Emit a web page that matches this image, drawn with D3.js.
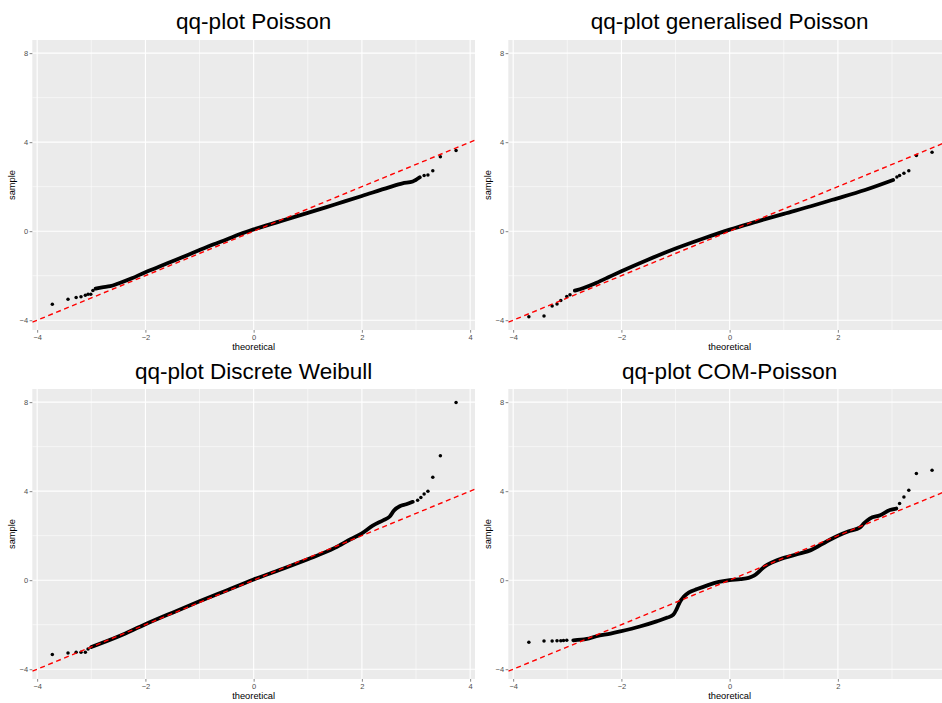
<!DOCTYPE html>
<html>
<head>
<meta charset="utf-8">
<script src="https://cdn.jsdelivr.net/npm/d3@7"></script>
<style>
  html, body { margin: 0; padding: 0; background: #ffffff; }
  svg { display: block; }
</style>
</head>
<body>
<svg id="chart" width="942" height="703"></svg>
<script>
// ---- data: theoretical vs sample quantiles ----
// dense central run of each qq-plot, [theoretical, sample]
const poissonBand = [[-2.92,-2.58],[-2.8,-2.52],[-2.65,-2.47],[-2.5,-2.35],[-2.25,-2.12],[-2.0,-1.84],[-1.75,-1.6],[-1.5,-1.35],[-1.25,-1.1],[-1.0,-0.85],[-0.75,-0.6],[-0.5,-0.37],[-0.25,-0.13],[0,0.08],[0.5,0.45],[1.0,0.82],[1.5,1.2],[2.0,1.58],[2.5,1.97],[2.75,2.15],[2.94,2.23],[3.07,2.42]];
const poissonPoints = [[-3.72,-3.28],[-3.43,-3.06],[-3.28,-2.98],[-3.19,-2.95],[-3.11,-2.88],[-3.06,-2.83],[-3.01,-2.83],[-2.97,-2.67],[3.15,2.5],[3.22,2.52],[3.31,2.72],[3.45,3.34],[3.74,3.62]];

const genPoissonBand = [[-2.86,-2.67],[-2.7,-2.55],[-2.5,-2.36],[-2.25,-2.08],[-2.0,-1.8],[-1.5,-1.27],[-1.0,-0.78],[-0.5,-0.34],[0,0.07],[0.5,0.43],[1.0,0.78],[1.5,1.12],[1.9,1.41],[2.5,1.85],[3.02,2.3]];
const genPoissonPoints = [[-3.71,-3.84],[-3.43,-3.81],[-3.28,-3.36],[-3.19,-3.27],[-3.12,-3.12],[-3.01,-2.94],[-2.95,-2.86],[3.09,2.43],[3.14,2.5],[3.22,2.6],[3.31,2.71],[3.45,3.4],[3.74,3.55]];

const weibullBand = [[-3.0,-3.0],[-2.5,-2.53],[-2.0,-1.98],[-1.5,-1.46],[-1.0,-0.95],[-0.5,-0.46],[0,0.03],[0.5,0.48],[1.0,0.94],[1.5,1.45],[1.8,1.85],[2.0,2.1],[2.2,2.45],[2.4,2.7],[2.51,2.85],[2.6,3.15],[2.7,3.32],[2.82,3.41],[2.94,3.52]];
const weibullPoints = [[-3.72,-3.34],[-3.43,-3.27],[-3.28,-3.24],[-3.19,-3.24],[-3.11,-3.24],[-3.06,-3.09],[3.03,3.59],[3.09,3.71],[3.15,3.87],[3.22,4.0],[3.31,4.62],[3.45,5.59],[3.74,7.98]];

const comPoissonBand = [[-2.89,-2.7],[-2.64,-2.64],[-2.46,-2.52],[-2.2,-2.4],[-2.02,-2.3],[-1.66,-2.08],[-1.35,-1.85],[-1.15,-1.68],[-1.04,-1.55],[-0.98,-1.3],[-0.92,-0.98],[-0.85,-0.75],[-0.75,-0.55],[-0.6,-0.4],[-0.4,-0.22],[-0.2,-0.08],[0,0],[0.2,0.05],[0.35,0.1],[0.45,0.2],[0.55,0.4],[0.65,0.62],[0.8,0.82],[1.0,1.0],[1.3,1.2],[1.5,1.35],[1.8,1.75],[2.0,2.0],[2.2,2.2],[2.41,2.37],[2.48,2.55],[2.59,2.77],[2.78,2.92],[2.96,3.15],[3.08,3.22]];
const comPoissonPoints = [[-3.71,-2.79],[-3.43,-2.73],[-3.28,-2.73],[-3.19,-2.72],[-3.12,-2.72],[-3.07,-2.71],[-3.01,-2.7],[3.14,3.44],[3.22,3.74],[3.31,4.04],[3.45,4.79],[3.74,4.94]];

// reference line sample = intercept + slope * theoretical
const refIntercept = 0;
const refSlope = 1;

const titles = ["qq-plot Poisson", "qq-plot generalised Poisson", "qq-plot Discrete Weibull", "qq-plot COM-Poisson"];
const xDomain = [-4.09, 4.09];
const yDomain = [-4.44, 8.59];
const xTicksLeft = [-4, -2, 0, 2, 4];
const xTicksRight = [-4, -2, 0, 2];
const xMinor = [-3, -1, 1, 3];
const xMajorGrid = [-4, -2, 0, 2, 4];
const yTicks = [-4, 0, 4, 8];
const yMinor = [-2, 2, 6];

// ---- layout ----
const panels = [
  { title: titles[0], band: poissonBand, points: poissonPoints, ticks: xTicksLeft, x0: 32.3, x1: 475, y0: 40, y1: 330, titleY: 28.5 },
  { title: titles[1], band: genPoissonBand, points: genPoissonPoints, ticks: xTicksRight, x0: 508.3, x1: 951, y0: 40, y1: 330, titleY: 28.5 },
  { title: titles[2], band: weibullBand, points: weibullPoints, ticks: xTicksLeft, x0: 32.3, x1: 475, y0: 389, y1: 679, titleY: 378.5 },
  { title: titles[3], band: comPoissonBand, points: comPoissonPoints, ticks: xTicksRight, x0: 508.3, x1: 951, y0: 389, y1: 679, titleY: 378.5 }
];

const svg = d3.select("#chart");
const font = "Arial, 'Liberation Sans', Helvetica, sans-serif";

panels.forEach((p, i) => {
  const x = d3.scaleLinear().domain(xDomain).range([p.x0, p.x1]);
  const y = d3.scaleLinear().domain(yDomain).range([p.y1, p.y0]);
  const g = svg.append("g");
  const clipId = "clip" + i;

  svg.append("clipPath").attr("id", clipId)
    .append("rect").attr("x", p.x0).attr("y", p.y0)
    .attr("width", p.x1 - p.x0).attr("height", p.y1 - p.y0);

  // panel background
  g.append("rect").attr("x", p.x0).attr("y", p.y0)
    .attr("width", p.x1 - p.x0).attr("height", p.y1 - p.y0)
    .attr("fill", "#EBEBEB");

  // grid lines
  const grid = g.append("g").attr("clip-path", `url(#${clipId})`);
  grid.selectAll(".xmin").data(xMinor).join("line")
    .attr("x1", d => x(d)).attr("x2", d => x(d)).attr("y1", p.y0).attr("y2", p.y1)
    .attr("stroke", "#ffffff").attr("stroke-width", 0.55);
  grid.selectAll(".ymin").data(yMinor).join("line")
    .attr("y1", d => y(d)).attr("y2", d => y(d)).attr("x1", p.x0).attr("x2", p.x1)
    .attr("stroke", "#ffffff").attr("stroke-width", 0.55);
  grid.selectAll(".xmaj").data(xMajorGrid).join("line")
    .attr("x1", d => x(d)).attr("x2", d => x(d)).attr("y1", p.y0).attr("y2", p.y1)
    .attr("stroke", "#ffffff").attr("stroke-width", 1.1);
  grid.selectAll(".ymaj").data(yTicks).join("line")
    .attr("y1", d => y(d)).attr("y2", d => y(d)).attr("x1", p.x0).attr("x2", p.x1)
    .attr("stroke", "#ffffff").attr("stroke-width", 1.1);

  // axes
  const xAxis = d3.axisBottom(x).tickValues(p.ticks).tickSize(2.7).tickPadding(1.5).tickFormat(d3.format("d"));
  const yAxis = d3.axisLeft(y).tickValues(yTicks).tickSize(2.7).tickPadding(1.5).tickFormat(d3.format("d"));
  const gx = g.append("g").attr("transform", `translate(0,${p.y1})`).call(xAxis);
  const gy = g.append("g").attr("transform", `translate(${p.x0},0)`).call(yAxis);
  [gx, gy].forEach(a => {
    a.select(".domain").remove();
    a.selectAll(".tick line").attr("stroke", "#333333").attr("stroke-width", 0.6);
    a.selectAll(".tick text").attr("fill", "#4D4D4D").style("font-family", font).style("font-size", "7.5px");
  });

  // axis titles
  g.append("text").attr("x", (p.x0 + p.x1) / 2).attr("y", p.y1 + 19.5)
    .attr("text-anchor", "middle").style("font-family", font).style("font-size", "9.3px")
    .attr("fill", "#000").text("theoretical");
  g.append("text")
    .attr("transform", `translate(${p.x0 - 17},${(p.y0 + p.y1) / 2}) rotate(-90)`)
    .attr("text-anchor", "middle").style("font-family", font).style("font-size", "9.3px")
    .attr("fill", "#000").text("sample");

  // plot title
  g.append("text").attr("x", (p.x0 + p.x1) / 2).attr("y", p.titleY)
    .attr("text-anchor", "middle").style("font-family", font).style("font-size", "22.5px")
    .attr("fill", "#000").text(p.title);

  const marks = g.append("g").attr("clip-path", `url(#${clipId})`);

  // sample quantiles: dense run and individual tail points
  const line = d3.line().x(d => x(d[0])).y(d => y(d[1])).curve(d3.curveMonotoneX);
  marks.append("path").datum(p.band).attr("d", line)
    .attr("fill", "none").attr("stroke", "#000").attr("stroke-width", 3.8)
    .attr("stroke-linecap", "round").attr("stroke-linejoin", "round");
  marks.selectAll("circle").data(p.points).join("circle")
    .attr("cx", d => x(d[0])).attr("cy", d => y(d[1])).attr("r", 1.75).attr("fill", "#000");

  // reference line
  marks.append("line")
    .attr("x1", x(xDomain[0])).attr("y1", y(refIntercept + refSlope * xDomain[0]))
    .attr("x2", x(xDomain[1])).attr("y2", y(refIntercept + refSlope * xDomain[1]))
    .attr("stroke", "#FF0000").attr("stroke-width", 1.4).attr("stroke-dasharray", "5,3.6");
});
</script>
</body>
</html>
